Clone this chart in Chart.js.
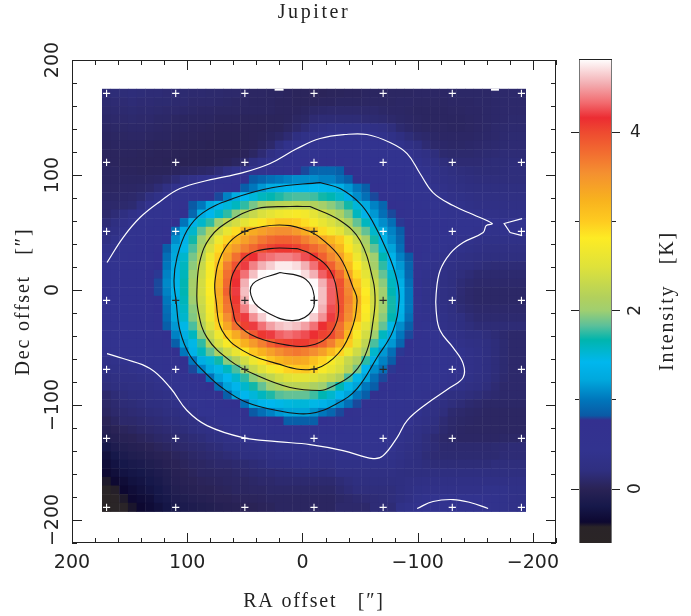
<!DOCTYPE html>
<html>
<head>
<meta charset="utf-8">
<style>
html,body{margin:0;padding:0;background:#fff;width:691px;height:616px;overflow:hidden}
canvas{position:absolute;top:0}
#map{left:0}
#bar{left:560px}
</style>
<script src="https://cdn.jsdelivr.net/npm/chart.js@4"></script>
</head>
<body>
<canvas id="map" width="628" height="616"></canvas>
<canvas id="bar" width="131" height="616"></canvas>
<script>
const titleText = 'Jupiter';
const xTitle = 'RA offset   [″]';
const yTitle = 'Dec offset   [″]';
const barTitle = 'Intensity   [K]';

// colour table: intensity (K) -> colour
const cmapValues = [-0.61,-0.43,-0.375,-0.2,0,0.2,0.43,0.77,0.82,1,1.22,1.42,1.67,1.83,2,2.14,2.49,2.81,3,3.24,3.54,3.76,4,4.16,4.33,4.55,4.82];
const cmapColors = ['#2a2526','#2a2428','#0d0830','#16184a','#2a2356','#2f2f80','#32338f','#33308f','#0a5aa5','#0077bc','#00a8dd','#00b7ee','#00b5ad','#5cc09a','#a0cf70','#b1d05d','#dfe23a','#fdeb24','#fecb20','#f8b21e','#f49030','#f26e30','#ee4a30','#ec2c32','#f26b6f','#f3b0b4','#ffffff'];

// map cell centres
const xCentreFirst = 170, yCentreFirst = 171, cellStep = 7.5;

// map rows, top to bottom, left to right (K)
const z00=[.15,.16,.16,.17,.16,.15,.15,.14,.14,.13,.12,.12,.11,.11,.10,.10,.08,.06,.06,.05,.05,.04,.03,.03,.02,.02,.03,.03,.04,.04,.05,.05,.05,.06,.06,.06,.07,.07,.07,.07,.08,.08,.08,.08,.08,.10,.10,.10,.10];
const z01=[.13,.14,.14,.15,.14,.14,.13,.13,.12,.12,.10,.10,.10,.09,.08,.07,.06,.05,.05,.05,.04,.04,.03,.03,.03,.04,.04,.05,.05,.05,.06,.06,.06,.06,.07,.07,.06,.06,.06,.06,.07,.07,.07,.08,.08,.09,.10,.10,.10];
const z02=[.11,.12,.12,.13,.12,.12,.11,.10,.10,.09,.08,.07,.07,.06,.06,.06,.05,.05,.05,.05,.04,.04,.04,.05,.08,.09,.10,.10,.10,.10,.10,.10,.08,.07,.07,.06,.05,.05,.05,.05,.06,.06,.07,.07,.08,.09,.10,.10,.10];
const z03=[.09,.10,.10,.11,.10,.10,.08,.08,.06,.05,.05,.05,.05,.04,.04,.04,.03,.03,.03,.03,.03,.04,.06,.08,.14,.15,.15,.15,.15,.15,.14,.13,.12,.10,.08,.07,.06,.05,.05,.05,.05,.05,.06,.07,.08,.09,.10,.11,.11];
const z04=[.07,.08,.08,.09,.09,.08,.07,.06,.05,.05,.04,.04,.03,.02,.02,.02,.02,.02,.02,.03,.03,.06,.10,.15,.22,.26,.29,.30,.30,.30,.30,.28,.24,.18,.12,.09,.07,.06,.06,.06,.05,.05,.06,.07,.08,.10,.11,.12,.12];
const z05=[.05,.06,.06,.07,.07,.06,.05,.05,.04,.03,.03,.02,.02,.01,.01,.01,.01,.02,.03,.05,.08,.14,.22,.30,.36,.39,.41,.42,.42,.42,.42,.41,.37,.30,.22,.16,.12,.10,.08,.07,.07,.07,.07,.08,.09,.10,.12,.13,.13];
const z06=[.04,.05,.05,.05,.05,.04,.03,.03,.02,.02,.01,.01,.00,.00,.00,.00,.01,.02,.05,.10,.20,.37,.41,.43,.45,.45,.46,.46,.46,.46,.46,.45,.45,.42,.37,.28,.20,.14,.10,.09,.08,.08,.09,.10,.11,.12,.13,.14,.14];
const z07=[.04,.04,.04,.04,.03,.03,.02,.02,.01,.01,.00,.00,.00,.00,.00,.00,.02,.06,.14,.26,.36,.40,.44,.47,.48,.49,.50,.50,.50,.50,.49,.48,.47,.45,.43,.40,.33,.26,.18,.12,.11,.11,.11,.12,.13,.14,.15,.15,.15];
const z08=[.04,.04,.03,.03,.03,.02,.02,.01,.01,.00,.00,.00,.00,.01,.02,.05,.10,.20,.30,.38,.42,.50,.56,.60,.62,.63,.63,.62,.60,.58,.55,.52,.50,.48,.46,.44,.39,.33,.25,.18,.15,.14,.14,.14,.15,.16,.16,.17,.17];
const z09=[.05,.05,.04,.04,.03,.03,.03,.03,.04,.05,.06,.08,.10,.15,.25,.35,.40,.45,.48,.50,.55,.60,.70,.80,.88,.90,.90,.85,.72,.65,.60,.55,.55,.50,.50,.45,.42,.38,.30,.25,.20,.18,.17,.16,.16,.16,.17,.18,.18];
const z10=[.05,.05,.05,.05,.05,.06,.07,.10,.15,.25,.33,.40,.48,.52,.58,.62,.70,.82,.88,.95,1.0,1.05,1.1,1.1,1.1,1.05,1.05,.95,.85,.75,.65,.58,.55,.50,.50,.48,.45,.41,.33,.28,.24,.20,.19,.18,.18,.18,.18,.18,.18];
const z11=[.06,.06,.07,.07,.08,.10,.15,.25,.38,.42,.46,.50,.55,.60,.65,.75,.85,1.0,1.15,1.28,1.35,1.4,1.42,1.42,1.42,1.4,1.38,1.3,1.15,1.0,.85,.7,.62,.56,.50,.47,.45,.43,.38,.33,.28,.25,.22,.20,.20,.20,.20,.20,.20];
const z12=[.08,.08,.09,.10,.13,.20,.30,.40,.43,.48,.52,.58,.65,.80,1.05,1.28,1.42,1.5,1.6,1.65,1.72,1.78,1.8,1.8,1.78,1.7,1.65,1.55,1.32,1.1,.95,.8,.68,.6,.55,.5,.47,.45,.41,.38,.33,.3,.27,.25,.25,.25,.25,.25,.25];
const z13=[.10,.10,.11,.13,.22,.40,.45,.50,.55,.65,.82,1.0,1.22,1.38,1.5,1.6,1.75,1.9,2.05,2.15,2.2,2.22,2.25,2.2,2.15,2.05,1.95,1.85,1.7,1.5,1.25,1.05,.9,.75,.65,.57,.52,.48,.45,.42,.38,.35,.3,.28,.28,.28,.28,.28,.28];
const z14=[.1,.15,.22,.32,.4,.43,.46,.5,.55,.68,.9,1.25,1.4,1.55,1.75,1.95,2.15,2.3,2.45,2.55,2.65,2.7,2.75,2.7,2.55,2.4,2.25,2.1,1.9,1.6,1.35,1.15,.95,.8,.68,.6,.55,.5,.47,.44,.42,.42,.4,.36,.34,.32,.3,.3,.3];
const z15=[.15,.22,.32,.4,.44,.47,.5,.55,.72,.98,1.35,1.55,1.75,2.0,2.25,2.4,2.55,2.7,2.85,2.95,3.05,3.05,3.0,2.9,2.75,2.6,2.45,2.3,2.1,1.85,1.6,1.3,1.1,.95,.78,.65,.58,.55,.52,.5,.48,.47,.45,.43,.42,.4,.4,.42,.42];
const z16=[.2,.28,.37,.43,.47,.5,.55,.68,.95,1.3,1.55,1.85,2.15,2.35,2.6,2.9,3.15,3.3,3.4,3.5,3.55,3.55,3.45,3.3,3.1,2.9,2.7,2.55,2.3,2.05,1.85,1.55,1.25,1.05,.85,.7,.6,.55,.52,.5,.48,.46,.44,.4,.38,.36,.38,.42,.42];
const z17=[.26,.36,.43,.46,.5,.53,.6,.75,1.1,1.35,1.7,2.0,2.3,2.65,2.95,3.2,3.4,3.55,3.7,3.8,3.85,3.85,3.8,3.65,3.5,3.35,3.2,3.0,2.7,2.35,2.05,1.7,1.35,1.1,.9,.72,.6,.53,.5,.47,.44,.4,.37,.33,.3,.3,.3,.3,.3];
const z18=[.35,.4,.45,.48,.5,.55,.65,.85,1.2,1.45,1.8,2.1,2.45,2.9,3.25,3.45,3.65,3.8,3.95,4.05,4.1,4.1,4.05,3.95,3.8,3.65,3.45,3.2,2.85,2.5,2.15,1.85,1.5,1.2,.95,.75,.62,.52,.47,.42,.38,.35,.3,.28,.25,.25,.25,.25,.25];
const z19=[.42,.45,.47,.5,.52,.58,.72,.95,1.22,1.55,1.9,2.2,2.65,3.0,3.4,3.75,4.05,4.15,4.3,4.35,4.4,4.4,4.35,4.25,4.1,3.85,3.6,3.4,3.0,2.65,2.3,2.0,1.65,1.35,1.05,.82,.62,.48,.4,.36,.32,.28,.25,.22,.2,.2,.2,.2,.2];
const z20=[.48,.48,.5,.5,.53,.6,.75,1.0,1.3,1.6,1.95,2.3,2.75,3.1,3.65,3.95,4.2,4.4,4.55,4.65,4.75,4.75,4.7,4.55,4.35,4.1,3.85,3.55,3.15,2.8,2.45,2.05,1.75,1.4,1.15,.88,.6,.42,.36,.3,.28,.22,.2,.18,.16,.15,.15,.15,.15];
const z21=[.5,.5,.5,.5,.55,.62,.78,1.05,1.32,1.62,2.0,2.35,2.75,3.2,3.75,4.1,4.35,4.6,4.8,4.88,5,5,4.85,4.7,4.55,4.3,4.1,3.8,3.35,2.9,2.55,2.2,1.85,1.55,1.2,.9,.6,.38,.32,.27,.22,.18,.15,.12,.12,.12,.12,.12,.12];
const z22=[.52,.52,.5,.5,.55,.65,.8,1.08,1.35,1.65,2.05,2.4,2.8,3.25,3.8,4.15,4.55,4.9,5,5,5,5,5,4.95,4.8,4.55,4.3,3.95,3.55,3.05,2.7,2.3,1.95,1.6,1.3,.95,.62,.36,.3,.25,.2,.15,.12,.1,.1,.1,.1,.1,.1];
const z23=[.52,.52,.5,.5,.55,.65,.8,1.05,1.35,1.65,2.05,2.4,2.8,3.3,3.85,4.2,4.6,4.95,5,5,5,5,5,5,4.85,4.6,4.3,3.95,3.6,3.15,2.8,2.35,2.0,1.65,1.35,1.0,.65,.36,.3,.25,.2,.14,.1,.08,.08,.08,.08,.08,.08];
const z24=[.52,.52,.5,.5,.53,.62,.76,1.0,1.3,1.62,2.0,2.35,2.75,3.25,3.75,4.1,4.55,4.95,5,5,5,5,5,5,4.9,4.6,4.3,3.95,3.65,3.25,2.85,2.4,2.0,1.7,1.35,1.0,.6,.36,.3,.25,.2,.13,.1,.08,.08,.08,.08,.08,.08];
const z25=[.52,.52,.5,.5,.52,.6,.72,.95,1.25,1.58,1.95,2.3,2.7,3.2,3.7,4.05,4.4,4.7,4.9,5,5,5,5,5,4.85,4.55,4.25,3.95,3.6,3.2,2.8,2.4,2.0,1.7,1.35,1.0,.6,.38,.32,.27,.22,.15,.12,.1,.1,.1,.1,.1,.1];
const z26=[.5,.5,.5,.5,.5,.58,.7,.92,1.22,1.55,1.92,2.25,2.65,3.05,3.55,4.0,4.2,4.45,4.65,4.8,4.88,4.95,4.95,4.85,4.65,4.45,4.2,3.9,3.55,3.15,2.75,2.35,1.95,1.65,1.3,.95,.6,.4,.34,.3,.25,.2,.15,.12,.12,.12,.12,.12,.12];
const z27=[.48,.5,.5,.5,.5,.55,.65,.85,1.15,1.45,1.8,2.15,2.5,2.95,3.35,3.75,4.05,4.2,4.35,4.5,4.6,4.65,4.6,4.5,4.35,4.15,4.0,3.75,3.35,2.9,2.55,2.25,1.85,1.45,1.1,.85,.6,.45,.38,.32,.28,.22,.18,.15,.15,.15,.15,.15,.15];
const z28=[.46,.48,.5,.5,.5,.52,.6,.75,1.05,1.3,1.6,1.95,2.3,2.65,3.0,3.3,3.6,3.9,4.1,4.2,4.3,4.35,4.3,4.25,4.15,4.05,4.0,3.75,3.2,2.75,2.4,2.0,1.6,1.25,1.0,.8,.62,.5,.44,.38,.32,.28,.22,.2,.18,.15,.12,.1,.1];
const z29=[.42,.45,.47,.48,.48,.5,.55,.65,.85,1.2,1.45,1.75,2.15,2.45,2.75,3.0,3.25,3.45,3.65,3.85,4.0,4.05,4.08,4.08,4.0,3.85,3.65,3.3,3.0,2.6,2.25,1.8,1.45,1.15,.9,.72,.58,.52,.46,.43,.38,.32,.28,.25,.2,.17,.13,.1,.1];
const z30=[.4,.42,.44,.45,.46,.47,.5,.58,.72,1.0,1.35,1.6,1.85,2.1,2.35,2.6,2.85,3.05,3.25,3.4,3.55,3.65,3.7,3.65,3.55,3.4,3.15,2.95,2.65,2.35,2.05,1.55,1.15,.95,.78,.63,.55,.5,.47,.45,.43,.38,.33,.28,.22,.17,.13,.1,.1];
const z31=[.33,.35,.38,.41,.43,.45,.48,.52,.6,.75,1.0,1.3,1.5,1.7,1.95,2.15,2.4,2.65,2.85,3.05,3.2,3.3,3.35,3.3,3.1,2.95,2.75,2.55,2.3,2.1,1.75,1.3,1.05,.85,.7,.58,.52,.48,.45,.44,.42,.4,.33,.28,.22,.17,.13,.1,.1];
const z32=[.28,.3,.33,.35,.38,.42,.45,.5,.55,.65,.8,1.05,1.25,1.45,1.6,1.8,2.05,2.3,2.5,2.7,2.85,2.95,3.0,3.05,2.95,2.75,2.6,2.45,2.2,1.9,1.4,1.1,.95,.78,.65,.55,.5,.47,.45,.44,.42,.4,.32,.28,.22,.17,.13,.1,.1];
const z33=[.22,.25,.27,.28,.3,.33,.37,.42,.47,.52,.6,.75,.95,1.2,1.42,1.55,1.75,1.95,2.1,2.25,2.4,2.5,2.55,2.55,2.5,2.4,2.3,2.15,1.8,1.45,1.2,.95,.8,.68,.58,.5,.47,.45,.43,.42,.4,.37,.3,.25,.2,.16,.12,.1,.1];
const z34=[.18,.2,.22,.24,.25,.28,.33,.38,.42,.47,.52,.6,.72,.95,1.2,1.38,1.55,1.7,1.85,2.0,2.1,2.2,2.2,2.2,2.1,2.0,1.85,1.65,1.45,1.2,1.0,.85,.68,.58,.52,.46,.44,.42,.42,.4,.37,.3,.25,.22,.18,.14,.1,.1,.1];
const z35=[.1,.15,.18,.2,.22,.24,.27,.3,.36,.42,.47,.52,.58,.68,.85,1.2,1.4,1.5,1.6,1.72,1.82,1.85,1.85,1.85,1.78,1.65,1.55,1.4,1.2,1.0,.85,.7,.58,.5,.45,.43,.42,.4,.33,.28,.22,.2,.18,.16,.14,.12,.1,.1,.1];
const z36=[.08,.12,.15,.16,.18,.2,.22,.25,.3,.4,.44,.47,.5,.55,.62,.75,.95,1.25,1.38,1.42,1.45,1.48,1.5,1.5,1.45,1.35,1.25,1.1,.95,.8,.65,.55,.5,.45,.43,.42,.4,.35,.28,.22,.18,.15,.12,.1,.08,.08,.08,.08,.08];
const z37=[.05,.1,.12,.14,.15,.17,.18,.2,.22,.28,.36,.43,.46,.5,.52,.58,.68,.82,.95,1.05,1.15,1.2,1.2,1.2,1.12,1.0,.9,.8,.7,.6,.52,.47,.45,.43,.42,.41,.38,.3,.24,.18,.12,.1,.08,.07,.06,.06,.06,.06,.06];
const z38=[0,.05,.1,.1,.12,.14,.15,.17,.18,.2,.25,.3,.38,.42,.45,.47,.5,.55,.6,.68,.75,.85,.85,.85,.85,.75,.68,.6,.55,.5,.47,.45,.44,.43,.42,.4,.33,.27,.2,.14,.1,.08,.07,.06,.06,.06,.06,.06,.06];
const z39=[-.05,0,.03,.05,.08,.1,.12,.14,.15,.17,.2,.24,.28,.33,.38,.41,.45,.47,.48,.5,.52,.55,.55,.55,.55,.55,.53,.5,.48,.47,.45,.44,.43,.42,.4,.34,.28,.22,.18,.12,.09,.07,.06,.06,.06,.06,.06,.06,.06];
const z40=[-.1,-.05,-.02,0,.03,.05,.08,.1,.12,.13,.15,.17,.2,.23,.27,.33,.38,.38,.4,.41,.42,.42,.42,.42,.41,.43,.45,.46,.46,.45,.44,.43,.43,.42,.36,.3,.24,.18,.14,.1,.08,.07,.07,.07,.07,.07,.08,.08,.08];
const z41=[-.2,-.12,-.08,-.05,-.03,0,.03,.05,.08,.1,.12,.13,.15,.17,.2,.22,.25,.28,.3,.33,.35,.35,.35,.36,.36,.37,.38,.42,.42,.42,.42,.42,.42,.42,.33,.28,.22,.18,.15,.12,.12,.12,.12,.12,.12,.13,.14,.15,.15];
const z42=[-.28,-.2,-.14,-.1,-.08,-.05,-.02,0,.03,.05,.08,.1,.12,.13,.15,.17,.2,.22,.25,.27,.3,.3,.3,.3,.3,.3,.3,.38,.38,.38,.41,.41,.41,.36,.3,.25,.2,.16,.14,.13,.13,.13,.13,.13,.13,.13,.15,.15,.15];
const z43=[-.32,-.25,-.2,-.16,-.14,-.1,-.07,-.03,0,.03,.05,.06,.08,.1,.1,.12,.13,.15,.17,.2,.2,.22,.25,.25,.25,.25,.25,.3,.3,.3,.3,.3,.3,.3,.26,.22,.2,.18,.16,.16,.16,.16,.16,.16,.16,.18,.18,.18,.18];
const z44=[-.36,-.3,-.25,-.22,-.2,-.16,-.12,-.08,-.03,0,.03,.05,.05,.06,.06,.08,.1,.12,.13,.14,.15,.15,.16,.16,.17,.17,.18,.24,.24,.24,.24,.24,.24,.24,.22,.2,.2,.2,.2,.2,.2,.2,.2,.2,.2,.2,.2,.2,.2];
const z45=[-.41,-.36,-.32,-.27,-.24,-.2,-.16,-.1,-.05,-.02,0,.02,.03,.04,.05,.06,.06,.08,.1,.1,.12,.12,.12,.12,.12,.12,.12,.15,.18,.2,.2,.2,.2,.2,.22,.24,.26,.28,.28,.28,.28,.28,.28,.28,.28,.28,.28,.28,.28];
const z46=[-.55,-.42,-.37,-.32,-.28,-.24,-.2,-.14,-.08,-.05,-.03,0,0,.02,.03,.05,.05,.06,.06,.08,.08,.08,.08,.08,.08,.08,.08,.12,.15,.18,.18,.18,.18,.18,.22,.26,.3,.33,.33,.33,.33,.33,.33,.33,.35,.35,.35,.3,.3];
const z47=[-.6,-.5,-.41,-.36,-.33,-.3,-.22,-.18,-.12,-.1,-.07,-.05,-.03,0,0,.02,.03,.03,.04,.05,.05,.05,.05,.05,.05,.05,.05,.08,.1,.12,.14,.15,.16,.18,.22,.28,.35,.38,.42,.42,.42,.42,.42,.42,.4,.38,.36,.33,.3];
const z48=[-.6,-.55,-.46,-.4,-.37,-.33,-.28,-.22,-.16,-.14,-.12,-.1,-.08,-.05,-.03,-.02,0,0,.02,.03,.05,.05,.05,.05,.05,.05,.05,.1,.1,.1,.1,.15,.15,.15,.3,.35,.4,.44,.46,.46,.46,.46,.46,.44,.41,.38,.35,.33,.3];
const mapRows=[z00,z01,z02,z03,z04,z05,z06,z07,z08,z09,z10,z11,z12,z13,z14,z15,z16,z17,z18,z19,z20,z21,z22,z23,z24,z25,z26,z27,z28,z29,z30,z31,z32,z33,z34,z35,z36,z37,z38,z39,z40,z41,z42,z43,z44,z45,z46,z47,z48];

// contours, [RA, Dec]
const whiteMain=[[169.6,23.9],[155.7,45.6],[141,63],[123.6,77],[106.3,88.2],[82.8,95.2],[51.6,102.1],[28.1,110],[4.7,123],[-15.3,131.7],[-37,135.2],[-56,135.2],[-76,128.2],[-90.8,118.6],[-102,101.3],[-113.3,84.7],[-130.7,73.4],[-148,65.6],[-164.6,57.8],[-159.4,56],[-156.8,50],[-139.4,41.3],[-128.1,31.7],[-119.4,16.9],[-116,-3.1],[-116,-17.9],[-119.4,-35.3],[-130.7,-50.1],[-139.4,-64],[-139.4,-76.1],[-128.1,-84.8],[-108.1,-98.7],[-90.8,-113.5],[-82.1,-128.3],[-70,-144],[-61.3,-146.6],[-35.2,-139.6],[-6.6,-134.4],[22.1,-131.8],[51.6,-128.3],[82.8,-117.9],[100.2,-104.8],[114.9,-84.8],[132.3,-68.3],[155.7,-59.6],[169.6,-55.3]];
const whiteRight=[[-190.6,62.1],[-175,57.8],[-180.2,50],[-190.6,47.3]];
const whiteBottom=[[-99.5,-190],[-113.3,-183.9],[-130.7,-182.2],[-145.5,-184.8],[-161.1,-190]];
const blackA=[[-15.3,93.4],[25.5,89.1],[60.3,79.5],[86.3,67.3],[100.2,51.7],[108.9,28.2],[111.5,8.2],[109.7,-9.2],[106.3,-35.3],[97.6,-57],[84.6,-71.8],[68.9,-85.7],[48.1,-97.9],[22.1,-104.8],[-6.6,-107.4],[-30,-98.7],[-47.4,-85.7],[-64.7,-58.7],[-78.6,-35.3],[-83.8,-9.2],[-82.1,8.2],[-74.3,31.7],[-60.4,60.4],[-50,75.2],[-32.6,88.2],[-15.3,93.4]];
const blackB=[[-6.6,72.6],[10.8,72.6],[39.4,70.8],[62.9,60.4],[80.2,45.6],[88.9,25.6],[91.5,2.1],[90.6,-17.9],[82.8,-41.4],[62.9,-61.4],[39.4,-74.4],[10.8,-84.8],[-15.3,-87.4],[-24,-84.8],[-43.9,-72.7],[-56,-52.7],[-61.3,-26.6],[-63,-9.2],[-61.3,8.2],[-50,43],[-32.6,60.4],[-6.6,72.6]];
const blackC=[[-6.6,50.8],[10.8,56],[34.2,55.2],[56.8,47.3],[69.8,31.7],[75.9,8.2],[75,-9.2],[69.8,-35.3],[51.6,-52.7],[22.1,-64],[-6.6,-69.2],[-26.6,-59.6],[-41.3,-37.9],[-47.4,-9.2],[-43.9,2.1],[-32.6,28.2],[-15.3,45.6],[-6.6,50.8]];
const blackD=[[4.7,36],[28.1,36],[48.1,30],[60.3,14.3],[62.9,-3.1],[60.3,-17.9],[56.8,-29.2],[39.4,-41.4],[10.8,-48.3],[-6.6,-48.3],[-21.3,-41.4],[-30,-26.6],[-30.9,-9.2],[-24,16.9],[-6.6,31.7],[4.7,36]];
const blackE=[[19.4,15.2],[42.9,5.6],[42.9,-9.2],[30.7,-19.6],[8.2,-26.6],[-8.3,-17.9],[-9.2,-0.5],[-0.5,10.8],[19.4,15.2]];
const notchA=[[24.2,174.2],[16.4,174.2]];
const notchB=[[-163.6,174.2],[-170.5,174.2]];

// pointing markers
const markerRA=[170,110,50,-10,-70,-130,-190];
const markerDec=[171,111,51,-9,-69,-129,-189];
const darkMarkers=[[110,-9],[50,51],[-10,51],[50,-9],[-10,-9],[-70,-9],[50,-69],[-10,-69],[-70,-69]];

const INK='#222222';
Chart.defaults.animation=false;
Chart.defaults.devicePixelRatio=1;

function hex(c){return [1,3,5].map(i=>parseInt(c.slice(i,i+2),16));}
function colourAt(v){
  if(v<=cmapValues[0])return cmapColors[0];
  const n=cmapValues.length-1;
  if(v>=cmapValues[n])return cmapColors[n];
  let i=0;while(v>cmapValues[i+1])i++;
  const t=(v-cmapValues[i])/(cmapValues[i+1]-cmapValues[i]);
  const a=hex(cmapColors[i]),b=hex(cmapColors[i+1]);
  return 'rgb('+a.map((q,k)=>Math.round(q+(b[k]-q)*t)).join(',')+')';
}
function toPoints(list){return list.map(p=>({x:p[0],y:p[1]}));}
function minus(v){return (v<0?'\u2212':'')+Math.abs(v);}
function spaced(obj,method,ctx,sp){
  const orig=obj[method];
  obj[method]=function(){ctx.save();ctx.letterSpacing=sp;const r=orig.apply(this,arguments);ctx.restore();return r;};
}

const heatPoints=[],heatColours=[];
mapRows.forEach((row,j)=>row.forEach((v,i)=>{
  heatPoints.push({x:xCentreFirst-i*cellStep,y:yCentreFirst-j*cellStep});
  heatColours.push(colourAt(v));
}));

const whiteMarkers=[],blackMarkers=[];
markerDec.forEach(d=>markerRA.forEach(r=>{
  (darkMarkers.some(m=>m[0]===r&&m[1]===d)?blackMarkers:whiteMarkers).push({x:r,y:d});
}));

function curve(list,colour,width){
  return {data:toPoints(list),showLine:true,borderColor:colour,borderWidth:width,pointRadius:0,tension:0.4,fill:false};
}

const frameAndTicks={
  id:'frameAndTicks',
  beforeDraw(chart){
    if(chart.$sp)return;chart.$sp=1;
    chart.titleBlock.right=chart.width;
    chart.titleBlock.left=0;
    spaced(chart.titleBlock,'draw',chart.ctx,'2.6px');
    spaced(chart.scales.x,'drawTitle',chart.ctx,'1.8px');
    spaced(chart.scales.y,'drawTitle',chart.ctx,'1.8px');
  },
  afterDraw(chart){
    const {ctx,chartArea:a,scales:{x,y}}=chart;
    ctx.save();
    ctx.strokeStyle=INK;ctx.lineWidth=1;
    ctx.strokeRect(a.left+.5,a.top+.5,a.right-a.left-1,a.bottom-a.top-1);
    ctx.beginPath();
    x.ticks.forEach(t=>{
      const px=Math.round(x.getPixelForValue(t.value))+.5;
      const len=t.value%100===0?10:5;
      ctx.moveTo(px,a.top);ctx.lineTo(px,a.top+len);
      ctx.moveTo(px,a.bottom);ctx.lineTo(px,a.bottom-len);
    });
    y.ticks.forEach(t=>{
      const py=Math.round(y.getPixelForValue(t.value))+.5;
      const len=t.value%100===0?10:5;
      ctx.moveTo(a.left,py);ctx.lineTo(a.left+len,py);
      ctx.moveTo(a.right,py);ctx.lineTo(a.right-len,py);
    });
    ctx.stroke();
    ctx.restore();
  }
};

new Chart(document.getElementById('map'),{
  type:'scatter',
  data:{datasets:[
    {data:blackMarkers,pointStyle:'cross',pointRadius:3.6,pointBorderColor:'#2a2a2a',pointBorderWidth:1.1,showLine:false},
    {data:whiteMarkers,pointStyle:'cross',pointRadius:3.6,pointBorderColor:'#ffffff',pointBorderWidth:1.1,showLine:false},
    curve(blackA,'#141414',1.1),curve(blackB,'#141414',1.1),curve(blackC,'#141414',1.1),curve(blackD,'#141414',1.1),curve(blackE,'#141414',1.1),
    curve(whiteMain,'#ffffff',1.2),
    {...curve(whiteRight,'#ffffff',1.2),tension:0},
    curve(whiteBottom,'#ffffff',1.2),
    {...curve(notchA,'#ffffff',2),tension:0},
    {...curve(notchB,'#ffffff',2),tension:0},
    {data:heatPoints,pointStyle:'rect',pointRadius:6.45,pointBackgroundColor:heatColours,pointBorderWidth:0,showLine:false}
  ]},
  options:{
    responsive:false,
    events:[],
    layout:{padding:{left:0,right:72,top:0,bottom:0}},
    plugins:{
      legend:{display:false},
      tooltip:{enabled:false},
      title:{display:true,text:titleText,color:INK,font:{family:'Liberation Serif',size:20,weight:'normal'},padding:{top:1,bottom:35}}
    },
    scales:{
      x:{type:'linear',position:'bottom',reverse:true,min:-220,max:200,
        grid:{display:false},border:{display:false},
        afterFit(s){s.height=73;},
        ticks:{stepSize:20,includeBounds:false,autoSkip:false,maxRotation:0,minRotation:0,padding:1,color:INK,font:{family:'DejaVu Sans',size:19},
          callback:v=>v%100===0?minus(v):''},
        title:{display:true,text:xTitle,color:INK,font:{family:'Liberation Serif',size:20,weight:'normal'},padding:{top:0,bottom:2}}
      },
      y:{type:'linear',position:'left',min:-220,max:200,
        grid:{display:false},border:{display:false},
        afterFit(s){s.width=72;},
        ticks:{stepSize:20,includeBounds:false,autoSkip:false,minRotation:90,maxRotation:90,crossAlign:'center',padding:-15,color:INK,font:{family:'DejaVu Sans',size:19},
          callback:v=>v%100===0?minus(v):''},
        title:{display:true,text:yTitle,color:INK,font:{family:'Liberation Serif',size:20,weight:'normal'},padding:{top:12,bottom:0}}
      }
    }
  },
  plugins:[frameAndTicks]
});

const wedgeRange=[cmapValues[0],cmapValues[cmapValues.length-1]];
new Chart(document.getElementById('bar'),{
  type:'bar',
  data:{labels:['Intensity'],datasets:[{
    data:[wedgeRange],
    barPercentage:1,categoryPercentage:1,borderWidth:0,borderSkipped:false,
    backgroundColor(c){
      const y=c.chart.scales.y;
      const p0=y?y.getPixelForValue(wedgeRange[0]):NaN,p1=y?y.getPixelForValue(wedgeRange[1]):NaN;
      if(!isFinite(p0)||!isFinite(p1))return '#000';
      const g=c.chart.ctx.createLinearGradient(0,p0,0,p1);
      cmapValues.forEach((v,i)=>g.addColorStop((v-wedgeRange[0])/(wedgeRange[1]-wedgeRange[0]),cmapColors[i]));
      return g;
    }
  }]},
  options:{
    responsive:false,events:[],
    layout:{padding:{left:19,right:0,top:59,bottom:73}},
    plugins:{legend:{display:false},tooltip:{enabled:false},title:{display:false}},
    scales:{
      x:{display:false},
      y:{position:'right',min:wedgeRange[0],max:wedgeRange[1],
        grid:{display:false},border:{display:false},
        afterFit(s){s.width=79;},
        ticks:{stepSize:1,includeBounds:false,autoSkip:false,minRotation:90,maxRotation:90,crossAlign:'center',padding:10,color:INK,font:{family:'DejaVu Sans',size:17},
          callback:v=>v%2===0?String(v):''}
      }
    }
  },
  plugins:[{
    id:'wedgeFrame',
    beforeDraw(chart){
      const s=chart.scales.y;
      s.getLabelItems(chart.chartArea).forEach(item=>{
        if(item.label==='4')item.options.rotation=0;
      });
    },
    afterDraw(chart){
      const {ctx,chartArea:a,scales:{y}}=chart;
      ctx.save();
      ctx.strokeStyle='#777';ctx.lineWidth=1;
      ctx.beginPath();
      ctx.moveTo(a.left+.5,a.top);ctx.lineTo(a.left+.5,a.bottom);
      ctx.moveTo(a.right-.5,a.top);ctx.lineTo(a.right-.5,a.bottom);
      ctx.stroke();
      ctx.strokeStyle=INK;
      ctx.beginPath();
      ctx.moveTo(a.left,a.top+.5);ctx.lineTo(a.right,a.top+.5);
      y.ticks.forEach(t=>{
        const py=Math.round(y.getPixelForValue(t.value))+.5;
        const len=t.value%2===0?8:4;
        ctx.moveTo(a.left-len,py);ctx.lineTo(a.left,py);
        ctx.moveTo(a.right,py);ctx.lineTo(a.right+len,py);
      });
      ctx.stroke();
      ctx.translate(108,(a.top+a.bottom)/2);
      ctx.rotate(-Math.PI/2);
      ctx.font='20px "Liberation Serif"';
      ctx.letterSpacing='1.8px';
      ctx.fillStyle=INK;ctx.textAlign='center';ctx.textBaseline='middle';
      ctx.fillText(barTitle,0,0);
      ctx.restore();
    }
  }]
});
</script>
</body>
</html>
